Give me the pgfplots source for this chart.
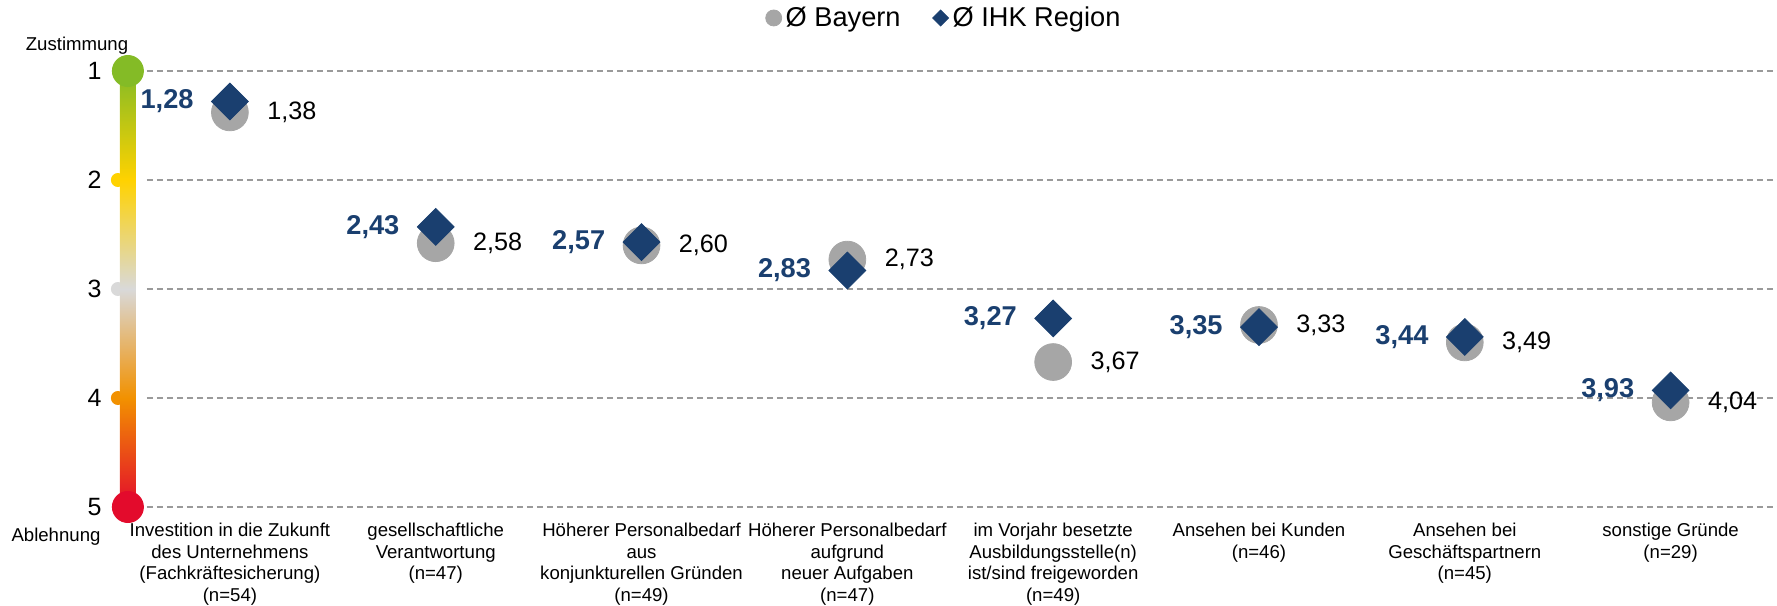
\documentclass[border=0pt]{standalone}
\usepackage{fontspec}
\setmainfont{Liberation Sans}
\usepackage{pgfplots}
\pgfplotsset{compat=1.18}
\usepackage{pgfplotstable}

\definecolor{navy}{HTML}{1A3F6F}
\definecolor{bgray}{HTML}{A6A6A6}
\definecolor{sgreen}{HTML}{84BB26}
\definecolor{syellow}{HTML}{FFD200}
\definecolor{sgray}{HTML}{D9D9D9}
\definecolor{sorange}{HTML}{F29100}
\definecolor{sred}{HTML}{E30B2C}
\definecolor{gridc}{HTML}{9A9A9A}

\pgfdeclareverticalshading{scalebar}{100bp}{color(0bp)=(sred); color(25bp)=(sred); color(37.5bp)=(sorange); color(50bp)=(sgray); color(62.5bp)=(syellow); color(75bp)=(sgreen); color(100bp)=(sgreen)}

\pgfplotstableread{
x y label
0 1.38 1,38
1 2.58 2,58
2 2.60 2,60
3 2.73 2,73
4 3.67 3,67
5 3.33 3,33
6 3.49 3,49
7 4.04 4,04
}\bayern

\pgfplotstableread{
x y label
0 1.28 1,28
1 2.43 2,43
2 2.57 2,57
3 2.83 2,83
4 3.27 3,27
5 3.35 3,35
6 3.44 3,44
7 3.93 3,93
}\ihk

\begin{document}
\begin{tikzpicture}
\path[use as bounding box] (-63.5pt,-49pt) rectangle (825pt,253.5pt);
\begin{axis}[
  at={(0,0)}, anchor=south west,
  scale only axis, width=825pt, height=218pt,
  xmin=-0.5, xmax=7.517, ymin=1, ymax=5, y dir=reverse,
  clip=false,
  axis line style={draw=none},
  major tick length=0pt,
  xtick={0,...,7}, ytick={1,...,5},
  yticklabels={1,2,3,4,5},
  xticklabels={
    {Investition in die Zukunft\\des Unternehmens\\(Fachkräftesicherung)\\(n=54)},
    {gesellschaftliche\\Verantwortung\\(n=47)},
    {Höherer Personalbedarf\\aus\\konjunkturellen Gründen\\(n=49)},
    {Höherer Personalbedarf\\aufgrund\\neuer Aufgaben\\(n=47)},
    {im Vorjahr besetzte\\Ausbildungsstelle(n)\\ist/sind freigeworden\\(n=49)},
    {Ansehen bei Kunden\\(n=46)},
    {Ansehen bei\\Geschäftspartnern\\(n=45)},
    {sonstige Gründe\\(n=29)}},
  xticklabel style={align=center, font=\fontsize{9.3}{10.75}\selectfont, anchor=north, inner sep=0pt, yshift=-8pt},
  yticklabel style={font=\fontsize{12.5}{15}\selectfont, anchor=east, inner sep=0pt, xshift=-12.5pt},
  legend style={at={(axis description cs:0.4958,1.1216)}, anchor=center, draw=none, fill=none,
    legend columns=2, font=\fontsize{13.6}{16}\selectfont,
    /tikz/every even column/.append style={column sep=14pt}},
  legend image code/.code={\draw[#1, only marks] plot coordinates {(4pt,0pt)};},
]
% grid lines
\draw[gridc, line width=0.6pt, dash pattern=on 3pt off 2pt] (axis cs:-0.403,1) -- (axis cs:7.517,1);
\draw[gridc, line width=0.6pt, dash pattern=on 3pt off 2pt] (axis cs:-0.403,2) -- (axis cs:7.517,2);
\draw[gridc, line width=0.6pt, dash pattern=on 3pt off 2pt] (axis cs:-0.403,3) -- (axis cs:7.517,3);
\draw[gridc, line width=0.6pt, dash pattern=on 3pt off 2pt] (axis cs:-0.403,4) -- (axis cs:7.517,4);
\draw[gridc, line width=0.6pt, dash pattern=on 3pt off 2pt] (axis cs:-0.403,5) -- (axis cs:7.517,5);
% scale bar
\fill[syellow] ([xshift=-5pt]axis cs:-0.4956,2) circle[radius=3.5pt];
\fill[sgray] ([xshift=-5pt]axis cs:-0.4956,3) circle[radius=3.5pt];
\fill[sorange] ([xshift=-5pt]axis cs:-0.4956,4) circle[radius=3.5pt];
\shade[shading=scalebar] ([xshift=-4pt]axis cs:-0.4956,5) rectangle ([xshift=4pt]axis cs:-0.4956,1);
\fill[sgreen] (axis cs:-0.4956,1) circle[radius=8pt];
\fill[sred] (axis cs:-0.4956,5) circle[radius=8pt];

\addlegendimage{mark=*, mark size=4pt, draw=none, mark options={draw=bgray, fill=bgray}}
\addlegendentry{Ø Bayern}
\addlegendimage{mark=square*, mark size=2.83pt, draw=none, mark options={rotate=45, draw=navy, fill=navy}}
\addlegendentry{Ø IHK Region}

\addplot[forget plot, only marks, mark=*, mark size=9.2pt, color=bgray,
  nodes near coords, point meta=explicit symbolic,
  nodes near coords align={anchor=west},
  every node near coord/.append style={xshift=18.5pt, inner sep=0pt, font=\fontsize{12.6}{15}\selectfont, text=black}]
  table[x=x, y=y, meta=label] {\bayern};
\addplot[forget plot, only marks, mark=square*, mark options={rotate=45}, mark size=6.5pt, color=navy,
  nodes near coords, point meta=explicit symbolic,
  nodes near coords align={anchor=east},
  every node near coord/.append style={xshift=-18pt, inner sep=0pt, font=\bfseries\fontsize{13.6}{16}\selectfont, text=navy}]
  table[x=x, y=y, meta=label] {\ihk};
\end{axis}
\node[font=\fontsize{9.3}{11}\selectfont] at (-25pt,230.5pt) {Zustimmung};
\node[font=\fontsize{9.3}{11}\selectfont] at (-35.5pt,-15pt) {Ablehnung};
\end{tikzpicture}
\end{document}
